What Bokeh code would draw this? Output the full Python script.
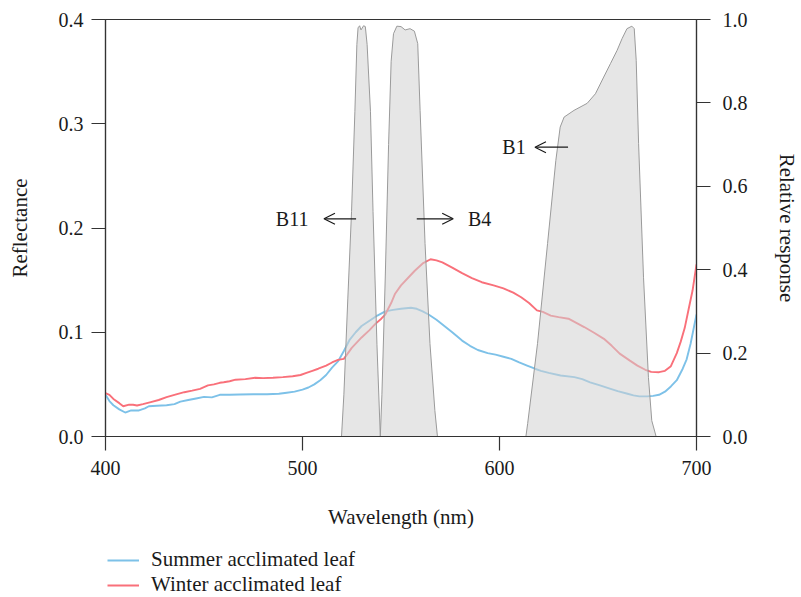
from bokeh.plotting import figure
from bokeh.layouts import column
from bokeh.models import (Range1d, LinearAxis, FixedTicker, Legend, LegendItem,
                          Arrow, OpenHead, Label, NumeralTickFormatter)
from bokeh.embed import file_html
from bokeh.resources import INLINE

# ---------------- data ----------------
wl_summer = [400, 402, 404, 407, 410, 413, 417, 420, 422, 426, 431, 435, 438, 442, 446, 450,
             454, 458, 463, 468, 475, 482, 488, 492, 496, 500, 503, 506, 509, 512, 515, 518,
             521, 524, 527, 530, 534, 538, 542, 546, 550, 555, 558, 561, 564, 568, 572, 576,
             581, 585, 589, 594, 598, 602, 606, 610, 614, 618, 621, 625, 631, 638, 642, 646,
             651, 656, 660, 665, 668, 671, 675, 678, 681, 684, 687, 690, 693, 695, 697, 700]
refl_summer = [0.040, 0.034, 0.030, 0.026, 0.023, 0.025, 0.025, 0.027, 0.029, 0.0295, 0.030, 0.031,
               0.0335, 0.035, 0.0365, 0.038, 0.0375, 0.040, 0.040, 0.0403, 0.0405, 0.0405, 0.041, 0.042,
               0.043, 0.045, 0.047, 0.050, 0.054, 0.059, 0.066, 0.072, 0.082, 0.093, 0.100, 0.106,
               0.111, 0.116, 0.120, 0.1215, 0.1225, 0.1235, 0.1225, 0.120, 0.117, 0.112, 0.106, 0.100,
               0.092, 0.087, 0.083, 0.080, 0.0785, 0.0765, 0.0745, 0.071, 0.068, 0.065, 0.063, 0.061,
               0.0585, 0.057, 0.055, 0.052, 0.049, 0.046, 0.0435, 0.041, 0.0395, 0.0385, 0.0385, 0.039,
               0.040, 0.043, 0.048, 0.054, 0.065, 0.074, 0.089, 0.117]

wl_winter = [400, 402, 404, 407, 409, 412, 414, 416, 419, 423, 427, 431, 435, 440, 444, 448,
             452, 455, 458, 460, 463, 466, 471, 476, 480, 485, 490, 495, 499, 502, 505, 508,
             512, 515, 518, 521, 525, 530, 534, 537, 540, 542, 545, 547, 550, 554, 557, 561,
             565, 568, 571, 576, 581, 586, 591, 597, 602, 607, 611, 615, 619, 622, 626, 630,
             635, 639, 643, 648, 653, 657, 661, 666, 670, 674, 677, 681, 684, 687, 690, 692,
             694, 696, 698, 700]
refl_winter = [0.0415, 0.040, 0.036, 0.032, 0.029, 0.0305, 0.0305, 0.0297, 0.031, 0.033, 0.035, 0.0377,
               0.040, 0.0425, 0.044, 0.0457, 0.049, 0.050, 0.0515, 0.052, 0.053, 0.0545, 0.055, 0.0563,
               0.056, 0.0563, 0.057, 0.0578, 0.059, 0.061, 0.063, 0.065, 0.068, 0.071, 0.0735, 0.0745,
               0.085, 0.095, 0.102, 0.108, 0.113, 0.117, 0.128, 0.137, 0.145, 0.153, 0.159, 0.166,
               0.170, 0.169, 0.167, 0.162, 0.1567, 0.152, 0.148, 0.145, 0.142, 0.138, 0.1336, 0.128,
               0.121, 0.1195, 0.116, 0.1145, 0.113, 0.109, 0.105, 0.0995, 0.0937, 0.087, 0.0795, 0.073,
               0.068, 0.064, 0.062, 0.0617, 0.063, 0.0675, 0.080, 0.091, 0.104, 0.122, 0.140, 0.165]

# relative spectral response of bands (right axis)
wl_b11 = [519.8, 521.0, 523.0, 524.9, 526.6, 527.6, 528.2, 529.0, 529.7, 531.0, 531.9, 532.8,
          534.5, 535.8, 537.8, 539.5]
resp_b11 = [0.0, 0.10, 0.33, 0.54, 0.78, 0.94, 0.98, 0.985, 0.975, 0.985, 0.983, 0.94,
            0.78, 0.54, 0.22, 0.0]

wl_b4 = [539.5, 540.3, 542.0, 543.7, 545.0, 546.2, 547.9, 550.0, 552.1, 554.6, 556.8, 558.5,
         559.7, 562.2, 564.7, 567.2, 568.5]
resp_b4 = [0.0, 0.10, 0.38, 0.70, 0.90, 0.966, 0.984, 0.983, 0.975, 0.978, 0.972, 0.942,
           0.782, 0.463, 0.223, 0.062, 0.0]

wl_b1 = [613.4, 614.3, 619.3, 624.4, 628.6, 630.8, 632.8, 637.8, 644.5, 648.7, 652.9, 656.3,
         659.7, 662.2, 664.7, 667.2, 668.4, 669.4, 670.6, 673.1, 675.6, 677.3, 679.5]
resp_b1 = [0.0, 0.031, 0.223, 0.463, 0.662, 0.742, 0.766, 0.782, 0.799, 0.822, 0.862, 0.894,
           0.926, 0.954, 0.978, 0.984, 0.978, 0.902, 0.703, 0.382, 0.142, 0.038, 0.0]

x_ticks = [400, 500, 600, 700]
y_ticks = [0.0, 0.1, 0.2, 0.3, 0.4]
y2_ticks = [0.0, 0.2, 0.4, 0.6, 0.8, 1.0]

band_labels = ["B11", "B4", "B1"]
series_names = ["Summer acclimated leaf", "Winter acclimated leaf"]

# ---------------- styling ----------------
FONT = "Liberation Serif"
AX = "#333333"
TXT = "#1a1a1a"
BLUE = "#7dc1e8"
RED = "#f9707a"

p = figure(width=801, height=540, x_range=Range1d(400, 700), y_range=Range1d(0, 0.4),
           output_backend="svg", toolbar_location=None,
           min_border_left=105, min_border_right=101, min_border_top=19, min_border_bottom=104)
p.extra_y_ranges = {"resp": Range1d(0, 1)}
p.xgrid.visible = False
p.ygrid.visible = False
p.outline_line_color = AX
p.outline_line_width = 1.2
p.background_fill_color = "white"
p.border_fill_color = "white"

def style_axis(ax):
    ax.axis_line_color = AX
    ax.axis_line_width = 1.2
    ax.major_tick_line_color = AX
    ax.major_tick_line_width = 1.2
    ax.major_tick_out = 14
    ax.major_tick_in = 0
    ax.minor_tick_line_color = None
    ax.major_label_text_font = FONT
    ax.major_label_text_font_size = "20px"
    ax.major_label_text_color = TXT
    ax.axis_label_text_font = FONT
    ax.axis_label_text_font_size = "21px"
    ax.axis_label_text_font_style = "normal"
    ax.axis_label_text_color = TXT

xa = p.xaxis[0]
style_axis(xa)
xa.ticker = FixedTicker(ticks=x_ticks)
xa.axis_label = "Wavelength (nm)"
xa.major_label_standoff = 10
xa.axis_label_standoff = 27

ya = p.yaxis[0]
style_axis(ya)
ya.ticker = FixedTicker(ticks=y_ticks)
ya.formatter = NumeralTickFormatter(format="0.0")
ya.axis_label = "Reflectance"
ya.major_label_standoff = 8
ya.axis_label_standoff = 24

y2 = LinearAxis(y_range_name="resp")
style_axis(y2)
y2.ticker = FixedTicker(ticks=y2_ticks)
y2.formatter = NumeralTickFormatter(format="0.0")
y2.axis_label = "Relative response"
y2.major_label_standoff = 12
y2.axis_label_standoff = 24
p.add_layout(y2, "right")

# reflectance lines
r_s = p.line(wl_summer, refl_summer, line_color=BLUE, line_width=1.9)
r_w = p.line(wl_winter, refl_winter, line_color=RED, line_width=1.9)

# band responses drawn on top, semi transparent
for wl, rs in [(wl_b11, resp_b11), (wl_b4, resp_b4), (wl_b1, resp_b1)]:
    p.patch(wl, rs, y_range_name="resp", fill_color="#d2d2d2", fill_alpha=0.55,
            line_color="#9a9a9a", line_width=1)

# annotations
arrow_y1 = 0.2088
arrow_y2 = 0.2775
for xs, xe, yy in [(527.2, 510.9, arrow_y1), (558.0, 576.5, arrow_y1), (634.8, 618.0, arrow_y2)]:
    p.add_layout(Arrow(end=OpenHead(size=11, line_width=1.2, line_color=TXT),
                       x_start=xs, y_start=yy, x_end=xe, y_end=yy,
                       line_width=1.2, line_color=TXT))

for txt, xx, yy, al in [(band_labels[0], 503.0, arrow_y1, "right"),
                        (band_labels[1], 584.0, arrow_y1, "left"),
                        (band_labels[2], 613.3, arrow_y2, "right")]:
    p.add_layout(Label(x=xx, y=yy, text=txt, text_align=al, text_baseline="middle",
                       text_font=FONT, text_font_size="20px", text_color=TXT))

# ---------------- legend strip below the chart ----------------
q = figure(width=801, height=57, x_range=Range1d(0, 1), y_range=Range1d(0, 1),
           output_backend="svg", toolbar_location=None, x_axis_type=None, y_axis_type=None,
           min_border_left=0, min_border_right=0, min_border_top=0, min_border_bottom=0)
q.outline_line_color = None
q.background_fill_color = "white"
q.border_fill_color = "white"
# same series, but outside this strip's ranges: only their legend swatches show
q_s = q.line(wl_summer, refl_summer, line_color=BLUE, line_width=1.9)
q_w = q.line(wl_winter, refl_winter, line_color=RED, line_width=1.9)

legend = Legend(items=[LegendItem(label=series_names[0], renderers=[q_s]),
                       LegendItem(label=series_names[1], renderers=[q_w])],
                location=(2, 0), orientation="vertical")
legend.border_line_color = None
legend.background_fill_alpha = 0
legend.padding = 0
legend.margin = 0
legend.spacing = 0
legend.glyph_width = 32
legend.glyph_height = 24
legend.label_height = 24
legend.label_standoff = 12
legend.label_text_font = FONT
legend.label_text_font_size = "21px"
legend.label_text_color = TXT
q.add_layout(legend)

layout = column(p, q, spacing=0)
open("out.html", "w").write(file_html(layout, INLINE))
